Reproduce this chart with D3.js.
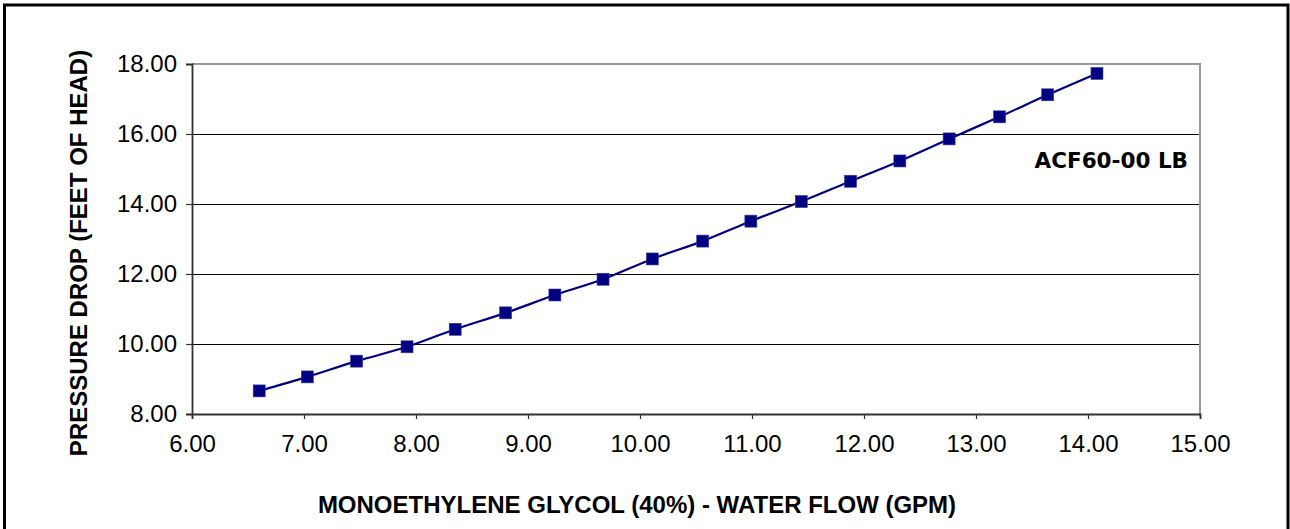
<!DOCTYPE html>
<meta charset="utf-8">
<title>Pressure drop</title>
<head>
  <script src="https://d3js.org/d3.v7.min.js"></script>
  <style>
    body { margin: 0; background: #fff; }
    text { font-family: "Liberation Sans", Arial, sans-serif; }
  </style>
</head>
<body>
<div id="chart"></div>
<script>
    // flow (GPM) and pressure drop (feet of head)
    var flow = [6.60, 7.03, 7.47, 7.92, 8.35, 8.80, 9.24, 9.67, 10.11, 10.56,
                10.99, 11.44, 11.88, 12.32, 12.76, 13.21, 13.64, 14.08];
    var drop = [8.66, 9.06, 9.51, 9.92, 10.42, 10.89, 11.40, 11.85, 12.43, 12.94,
                13.51, 14.07, 14.65, 15.23, 15.86, 16.49, 17.12, 17.73];
    var xTicks = [6, 7, 8, 9, 10, 11, 12, 13, 14, 15];
    var yTicks = [8, 10, 12, 14, 16, 18];
    var seriesLabel = "ACF60-00 LB";
    var xTitle = "MONOETHYLENE GLYCOL (40%) - WATER FLOW (GPM)";
    var yTitle = "PRESSURE DROP (FEET OF HEAD)";

    var W = 1290, H = 529;
    var margin = {top: 64, right: 90, bottom: 115, left: 192},
        width = W - margin.left - margin.right,
        height = H - margin.top - margin.bottom;

    var root = d3.select("#chart")
      .append("svg")
        .attr("width", W)
        .attr("height", H);

    // outer frame
    root.append("rect")
        .attr("x", 4.5).attr("y", 5)
        .attr("width", 1283.5).attr("height", 540)
        .attr("fill", "none")
        .attr("stroke", "#000")
        .attr("stroke-width", 3);

    var svg = root.append("g")
        .attr("transform", "translate(" + margin.left + "," + margin.top + ")");

    var x = d3.scaleLinear().domain([6, 15]).range([0, width]);
    var y = d3.scaleLinear().domain([8, 18]).range([height, 0]);

    // gridlines (half pixel offset keeps them crisp)
    svg.selectAll(".grid")
        .data(yTicks.slice(1, -1))
        .enter()
        .append("line")
          .attr("x1", 0).attr("x2", width)
          .attr("y1", function(d) { return y(d) + 0.5; })
          .attr("y2", function(d) { return y(d) + 0.5; })
          .attr("stroke", "#000")
          .attr("stroke-width", 1);

    // plot area top + right border (gray)
    svg.append("path")
        .attr("d", "M0," + y(18) + "H" + width + "V" + height)
        .attr("fill", "none")
        .attr("stroke", "#9a9a9a")
        .attr("stroke-width", 2);

    var xAxis = svg.append("g")
        .attr("transform", "translate(0," + height + ")")
        .call(d3.axisBottom(x).tickValues(xTicks).tickSize(5).tickPadding(16)
              .tickFormat(d3.format(".2f")));
    var yAxis = svg.append("g")
        .call(d3.axisLeft(y).tickValues(yTicks).tickSize(6).tickPadding(9)
              .tickFormat(d3.format(".2f")));

    [xAxis, yAxis].forEach(function(a) {
      a.select(".domain").attr("stroke", "#333").attr("stroke-width", 1.8);
      a.selectAll(".tick line").attr("stroke", "#333").attr("stroke-width", 1.2);
      a.selectAll(".tick text")
        .style("font-family", "'Liberation Sans', Arial, sans-serif")
        .style("font-size", "24px")
        .attr("fill", "#000");
    });

    var pts = flow.map(function(f, i) { return {x: f, y: drop[i]}; });

    var line = d3.line()
        .x(function(d) { return x(d.x); })
        .y(function(d) { return y(d.y); })
        .curve(d3.curveCatmullRom.alpha(0.5));

    svg.append("path")
        .datum(pts)
        .attr("d", line)
        .attr("fill", "none")
        .attr("stroke", "#000080")
        .attr("stroke-width", 2.2);

    var s = 12;
    svg.selectAll(".pt")
        .data(pts)
        .enter()
        .append("rect")
          .attr("x", function(d) { return x(d.x) - s / 2; })
          .attr("y", function(d) { return y(d.y) - s / 2; })
          .attr("width", s).attr("height", s)
          .attr("fill", "#000080")
          .attr("stroke", "#3a3aa0")
          .attr("stroke-width", 0.6);

    svg.append("text")
        .attr("x", 1188 - margin.left)
        .attr("y", 168 - margin.top)
        .attr("text-anchor", "end")
        .style("font-family", "'DejaVu Sans', Verdana, sans-serif")
        .style("font-weight", "bold")
        .style("font-size", "21.5px")
        .text(seriesLabel);

    root.append("text")
        .attr("x", 637)
        .attr("y", 513)
        .attr("text-anchor", "middle")
        .style("font-weight", "bold")
        .style("font-size", "24px")
        .text(xTitle);

    root.append("text")
        .attr("transform", "translate(87,253) rotate(-90)")
        .attr("text-anchor", "middle")
        .style("font-weight", "bold")
        .style("font-size", "24px")
        .text(yTitle);
</script>
</body>
